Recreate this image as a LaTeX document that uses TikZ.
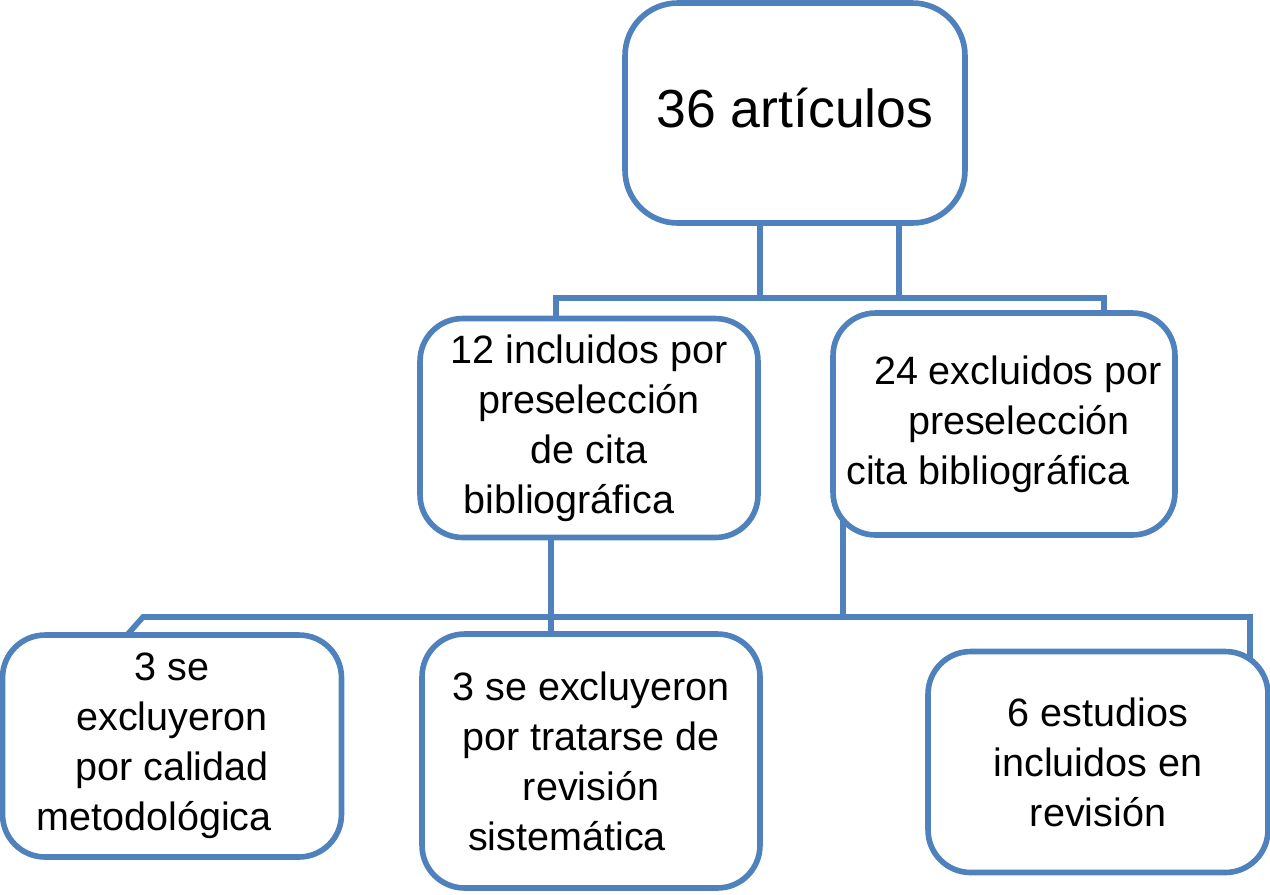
\documentclass[tikz,border=0pt]{standalone}
\usepackage{fontspec}
\setmainfont{Liberation Sans}
\definecolor{flowblue}{RGB}{79,129,189}
\pgfdeclarelayer{background}
\pgfsetlayers{background,main}
\tikzset{
  flowbox/.style={draw=flowblue,fill=white,line width=3.2pt,rounded corners=0.85cm,
    minimum width=6.8cm,minimum height=4.4cm,inner sep=0pt,outer sep=0pt,align=center,
    font=\fontsize{22.5}{28.5}\selectfont},
  flowlink/.style={flowblue,line width=3.2pt},
  every picture/.style={line join=miter}
}

\begin{document}
\begin{tikzpicture}[x=0.02cm,y=-0.02cm]
  \useasboundingbox (0,0) rectangle (1270,894);
  \node[flowbox,rounded corners=1.05cm,font=\fontsize{30.5}{36}\selectfont,
    text height=0.6cm,text depth=0.04cm] (total) at (795,113) {36 artículos};
  \node[flowbox,minimum width=6.76cm,minimum height=4.38cm] (incl) at (589,428)
    {12 incluidos por\\preselección\\de cita\\bibliográfica\hspace*{0.8cm}};
  \node[flowbox,minimum width=6.84cm,minimum height=4.44cm] (excl) at (1004,424)
    {\hspace*{0.56cm}24 excluidos por\\\hspace*{0.6cm}preselección\\cita bibliográfica\hspace*{0.64cm}};
  \node[flowbox,minimum width=6.78cm,minimum height=4.44cm] (metod) at (172,746)
    {3 se\\excluyeron\\por calidad\\metodológica\hspace*{0.72cm}};
  \node[flowbox,minimum width=6.76cm,minimum height=5.08cm] (sistem) at (591,761)
    {3 se excluyeron\\por tratarse de\\revisión\\sistemática\hspace*{0.96cm}};
  \node[flowbox,minimum height=4.42cm] (estud) at (1098,762)
    {6 estudios\\incluidos en\\revisión};

  \coordinate (topl) at (760,298);
  \coordinate (topr) at (899,298);
  \coordinate (busa) at (556,298);
  \coordinate (busb) at (1104,298);
  \coordinate (incd) at (551,617);
  \coordinate (excd) at (843,617);
  \coordinate (busc) at (143,617);
  \coordinate (busd) at (1250,617);
  \coordinate (diag) at (127,635);

  \begin{pgfonlayer}{background}
    \draw[flowlink] (total.center -| topl) -- (topl);
    \draw[flowlink] (total.center -| topr) -- (topr);
    \draw[flowlink] (incl.center -| busa) -- (busa) -- (busb) -- (excl.center -| busb);
    \draw[flowlink] (incl.center -| incd) -- (sistem.center -| incd);
    \draw[flowlink] (excl.center -| excd) -- (excd);
    \draw[flowlink] (metod.north -| diag) -- (busc) -- (busd) -- (estud.center -| busd);
  \end{pgfonlayer}
\end{tikzpicture}
\end{document}
